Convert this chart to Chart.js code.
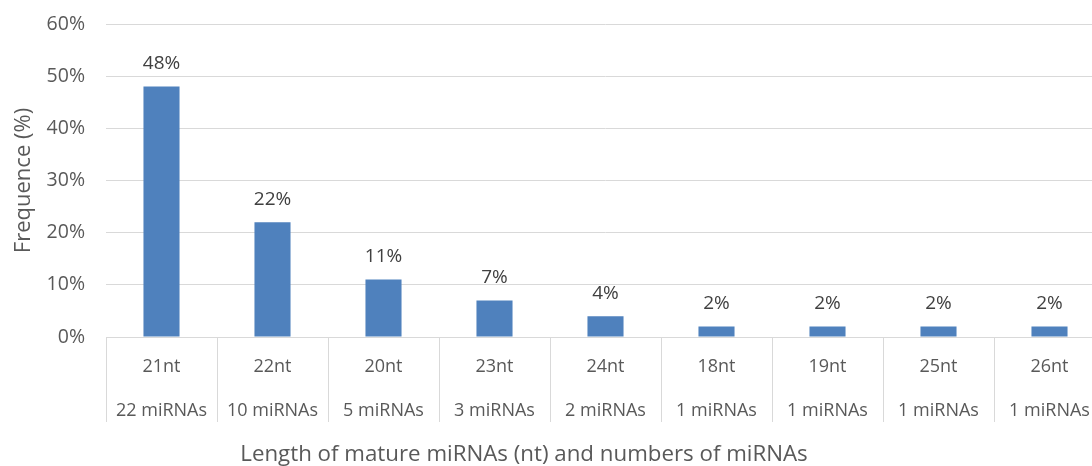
<!DOCTYPE html>
<html>
<head>
<meta charset="utf-8">
<script src="https://cdn.jsdelivr.net/npm/chart.js@4"></script>
<style>
  html, body { margin: 0; padding: 0; background: #fff; overflow: hidden; }
  #wrap { width: 1110px; height: 466px; position: relative; }
</style>
</head>
<body>
<div id="wrap"><canvas id="c"></canvas></div>
<script>
const lengths = ["21nt", "22nt", "20nt", "23nt", "24nt", "18nt", "19nt", "25nt", "26nt"];
const counts = ["22 miRNAs", "10 miRNAs", "5 miRNAs", "3 miRNAs", "2 miRNAs", "1 miRNAs", "1 miRNAs", "1 miRNAs", "1 miRNAs"];
const frequency = [48, 22, 11, 7, 4, 2, 2, 2, 2];
const yTicks = [0, 10, 20, 30, 40, 50, 60];

const FONT = "'Open Sans', 'Noto Sans', sans-serif";
const labels = lengths.map((l, i) => [l, counts[i]]);

const valueLabels = {
  id: 'valueLabels',
  afterDatasetsDraw(chart) {
    const ctx = chart.ctx;
    const meta = chart.getDatasetMeta(0);
    ctx.save();
    ctx.font = "19px " + FONT;
    ctx.fillStyle = '#404040';
    ctx.textAlign = 'center';
    ctx.textBaseline = 'middle';
    meta.data.forEach((bar, i) => {
      ctx.fillText(frequency[i] + '%', bar.x, bar.y - 23);
    });
    ctx.restore();
  }
};

const xTitle = {
  id: 'xTitle',
  afterDraw(chart) {
    const ctx = chart.ctx;
    ctx.save();
    ctx.font = "22.3px " + FONT;
    ctx.fillStyle = '#595959';
    ctx.textAlign = 'center';
    ctx.textBaseline = 'middle';
    ctx.fillText('Length of mature miRNAs (nt) and numbers of miRNAs', chart.chartArea.left + 418, 455);
    ctx.restore();
  }
};

new Chart(document.getElementById('c'), {
  type: 'bar',
  data: {
    labels: labels,
    datasets: [{
      data: frequency,
      backgroundColor: '#4f81bd',
      borderWidth: 0,
      barPercentage: 0.325,
      categoryPercentage: 1.0
    }]
  },
  options: {
    responsive: true,
    maintainAspectRatio: false,
    animation: false,
    events: [],
    layout: { padding: { left: 11, right: 5, top: 24, bottom: 0 } },
    plugins: { legend: { display: false }, tooltip: { enabled: false } },
    scales: {
      x: {
        grid: {
          offset: true,
          drawOnChartArea: false,
          drawTicks: true,
          tickLength: 85,
          color: '#d9d9d9',
          lineWidth: 1
        },
        border: { display: true, color: '#d9d9d9', width: 1 },
        ticks: {
          color: '#595959',
          font: { family: FONT, size: 18, lineHeight: 2.45 },
          padding: -77,
          maxRotation: 0,
          autoSkip: false
        },
        afterFit(s) { s.height = 129; }
      },
      y: {
        min: 0,
        max: 60,
        afterBuildTicks(s) { s.ticks = yTicks.map(v => ({ value: v })); },
        grid: { color: '#d9d9d9', drawTicks: true, tickLength: 21, tickColor: 'rgba(0,0,0,0)', lineWidth: 1 },
        border: { display: false },
        ticks: {
          color: '#595959',
          font: { family: FONT, size: 19.5 },
          padding: 0,
          callback: v => v + '%'
        },
        title: {
          display: true,
          text: 'Frequence (%)',
          color: '#595959',
          font: { family: FONT, size: 22 },
          padding: { top: 0, bottom: 2 }
        },
        afterFit(s) { s.width = 95; }
      }
    }
  },
  plugins: [valueLabels, xTitle]
});
</script>
</body>
</html>
